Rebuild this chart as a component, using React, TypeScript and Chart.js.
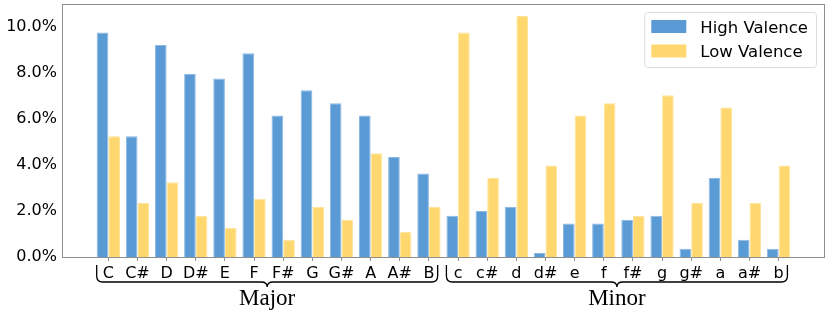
import React, { useEffect, useRef } from 'react';
import { Chart, registerables } from 'chart.js';

Chart.register(...registerables);

const categories = ['C', 'C#', 'D', 'D#', 'E', 'F', 'F#', 'G', 'G#', 'A', 'A#', 'B',
  'c', 'c#', 'd', 'd#', 'e', 'f', 'f#', 'g', 'g#', 'a', 'a#', 'b'];
const highValence = [9.75, 5.24, 9.21, 7.95, 7.75, 8.85, 6.15, 7.24, 6.68, 6.15, 4.34, 3.63,
  1.79, 2.0, 2.17, 0.17, 1.45, 1.45, 1.62, 1.79, 0.36, 3.43, 0.75, 0.36];
const lowValence = [5.24, 2.36, 3.25, 1.79, 1.27, 2.53, 0.75, 2.17, 1.62, 4.51, 1.10, 2.17,
  9.75, 3.43, 10.47, 3.98, 6.15, 6.68, 1.79, 7.03, 2.36, 6.49, 2.36, 3.98];
const seriesLabels = ['High Valence', 'Low Valence'];
const seriesColors = ['#5b9bd5', '#fed86e'];
const seriesEdges = ['#8db9e3', '#fee49a'];
const groups = [
  { label: 'Major', from: 0, to: 11 },
  { label: 'Minor', from: 12, to: 23 },
];
const yMax = 10.99;

const overlayPlugin = {
  id: 'overlay',
  afterDraw(chart: any) {
    const { ctx, chartArea: a, scales } = chart;
    const x = scales.x;
    ctx.save();
    // frame
    ctx.strokeStyle = '#8f8f8f';
    ctx.lineWidth = 1;
    ctx.strokeRect(Math.round(a.left) + 0.5, Math.round(a.top) + 0.5,
      Math.round(a.right - a.left) - 1, Math.round(a.bottom - a.top));

    // braces
    ctx.strokeStyle = '#000';
    ctx.lineWidth = 1.3;
    ctx.fillStyle = '#000';
    ctx.font = '23px "Liberation Serif", "Times New Roman", serif';
    ctx.textAlign = 'center';
    ctx.textBaseline = 'alphabetic';
    for (const g of groups) {
      const x1 = x.getPixelForValue(g.from - 0.4);
      const x2 = x.getPixelForValue(g.to + 0.3);
      const xm = (x1 + x2) / 2;
      const y0 = a.bottom + 8;
      const y1 = a.bottom + 25;
      const y2 = a.bottom + 30;
      const r = 6;
      ctx.beginPath();
      ctx.moveTo(x1, y0);
      ctx.lineTo(x1, y1 - r);
      ctx.quadraticCurveTo(x1, y1, x1 + r, y1);
      ctx.lineTo(xm - r, y1);
      ctx.quadraticCurveTo(xm, y1, xm, y2);
      ctx.quadraticCurveTo(xm, y1, xm + r, y1);
      ctx.lineTo(x2 - r, y1);
      ctx.quadraticCurveTo(x2, y1, x2, y1 - r);
      ctx.lineTo(x2, y0);
      ctx.stroke();
      ctx.fillText(g.label, xm, a.bottom + 48);
    }

    // legend
    ctx.font = '16.5px "DejaVu Sans", sans-serif';
    ctx.textAlign = 'left';
    const labels = chart.data.datasets.map((d: any) => d.label);
    const textW = Math.max(...labels.map((l: string) => ctx.measureText(l).width));
    const pad = 7, patchW = 35, patchH = 13, gap = 14, rowH = 24.5;
    const boxW = pad + patchW + gap + textW + 8;
    const boxH = 55;
    const bx = a.right - 9 - boxW;
    const by = a.top + 8;
    ctx.beginPath();
    ctx.roundRect(bx + 0.5, by + 0.5, boxW, boxH, 3);
    ctx.fillStyle = 'rgba(255,255,255,0.85)';
    ctx.fill();
    ctx.strokeStyle = '#dcdcdc';
    ctx.lineWidth = 1;
    ctx.stroke();
    chart.data.datasets.forEach((d: any, k: number) => {
      const cy = by + 14.5 + k * rowH;
      ctx.fillStyle = d.backgroundColor;
      ctx.fillRect(bx + pad, cy - patchH / 2, patchW, patchH);
      ctx.fillStyle = '#000';
      ctx.fillText(d.label, bx + pad + patchW + gap, cy + 6);
    });
    ctx.restore();
  },
};

export default function App() {
  const ref = useRef<HTMLCanvasElement | null>(null);
  useEffect(() => {
    document.body.style.margin = '0';
    const canvas = ref.current!;
    const series = [highValence, lowValence];
    const chart = new Chart(canvas, {
      type: 'bar',
      data: {
        datasets: series.map((vals, s) => ({
          label: seriesLabels[s],
          data: vals.map((v, i) => ({ x: i, y: v })),
          backgroundColor: seriesColors[s],
          borderColor: seriesEdges[s],
          borderWidth: 1,
          categoryPercentage: 0.8,
          barPercentage: 1.0,
        })),
      },
      options: {
        responsive: false,
        animation: false,
        devicePixelRatio: 1,
        layout: { padding: { top: 4, right: 5, left: 0, bottom: 0 } },
        plugins: { legend: { display: false }, tooltip: { enabled: false } },
        scales: {
          x: {
            type: 'linear',
            offset: false,
            min: -1.59,
            max: 24.59,
            afterBuildTicks: (scale: any) => {
              scale.ticks = categories.map((_, i) => ({ value: i }));
            },
            afterFit: (scale: any) => {
              scale.height = 56;
              scale.paddingLeft = 0;
              scale.paddingRight = 0;
            },
            border: { display: false },
            grid: {
              display: true,
              drawOnChartArea: false,
              drawTicks: true,
              tickLength: 4,
              color: '#8f8f8f',
              offset: false,
            },
            ticks: {
              autoSkip: false,
              maxRotation: 0,
              minRotation: 0,
              padding: 3,
              color: '#000',
              font: { family: '"DejaVu Sans", sans-serif', size: 16 },
              callback: (v: any) => categories[v as number] ?? '',
            },
          },
          y: {
            min: 0,
            max: yMax,
            afterFit: (scale: any) => {
              scale.width = 62;
              scale.paddingTop = 0;
              scale.paddingBottom = 0;
            },
            border: { display: false },
            grid: { display: false, drawTicks: false },
            ticks: {
              stepSize: 2,
              includeBounds: false,
              padding: 5,
              color: '#000',
              font: { family: '"DejaVu Sans", sans-serif', size: 16 },
              callback: (v: any) => Number(v).toFixed(1) + '%',
            },
          },
        },
      } as any,
      plugins: [overlayPlugin],
    });
    return () => chart.destroy();
  }, []);
  return (
    <div style={{ position: 'fixed', left: 0, top: 0, width: 830, height: 313 }}>
      <canvas ref={ref} width={830} height={313} style={{ width: 830, height: 313 }} />
    </div>
  );
}
